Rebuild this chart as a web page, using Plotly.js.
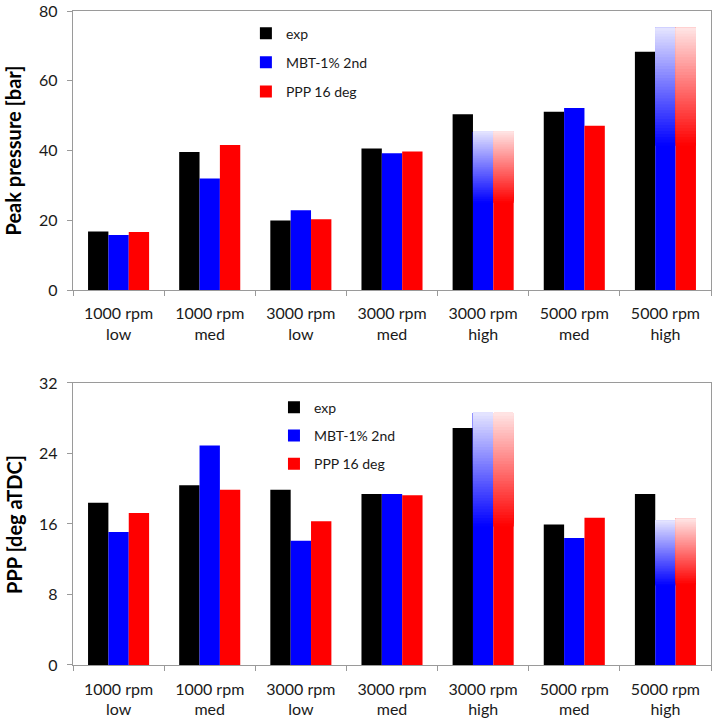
<!DOCTYPE html>
<html>
<head>
<meta charset="utf-8">
<script src="https://cdn.plot.ly/plotly-3.0.1.min.js"></script>
<style>
  html, body { margin: 0; padding: 0; background: #fff; }
  #chart { width: 714px; height: 720px; }
</style>
</head>
<body>
<div id="chart"></div>
<script>
// Operating points (engine speed / load)
const categories = [
  '1000 rpm<br>low', '1000 rpm<br>med', '3000 rpm<br>low', '3000 rpm<br>med',
  '3000 rpm<br>high', '5000 rpm<br>med', '5000 rpm<br>high'
];
const seriesNames = ['exp', 'MBT-1% 2nd', 'PPP 16 deg'];
const axisTitles = ['Peak pressure [bar]', 'PPP [deg aTDC]'];

// Peak cylinder pressure [bar]
const peakExp = [16.8, 39.6, 19.9, 40.6, 50.4, 51.1, 68.3];
const peakMbt = [15.8, 32.0, 22.9, 39.2, 45.5, 52.2, 75.2];
const peakPpp = [16.6, 41.6, 20.3, 39.7, 45.5, 47.1, 75.2];

// Location of peak pressure [deg aTDC]
const pppExp = [18.4, 20.4, 19.9, 19.4, 26.9, 15.95, 19.4];
const pppMbt = [15.1, 24.9, 14.1, 19.4, 28.6, 14.4, 16.4];
const pppPpp = [17.25, 19.9, 16.3, 19.25, 28.6, 16.7, 16.6];

// Points where the simulated result is uncertain (drawn as a fading bar)
const peakUncertain = [false, false, false, false, true, false, true];
const pppUncertain  = [false, false, false, false, true, false, true];

const COLORS = { exp: [0, 0, 0], mbt: [0, 0, 255], ppp: [255, 0, 0] };
const FADE_PART = 0.45;   // upper share of an uncertain bar that fades out
const FADE_STEPS = 40;
const FONT = 'Lato, "Open Sans", sans-serif';

function rgb(c, t) {
  // mix colour c with white by t (0 = pure colour, 1 = white)
  const m = c.map(v => Math.round(v + (255 - v) * t));
  return 'rgb(' + m.join(',') + ')';
}

function addSeries(traces, values, uncertain, color, name, xa, ya, legend) {
  const group = name + xa;
  // full-height solid bar
  traces.push({
    type: 'bar', x: categories, y: values,
    name: name, offsetgroup: name, legendgroup: group, legend: legend,
    showlegend: true, xaxis: xa, yaxis: ya,
    marker: { color: rgb(color, 0), line: { width: 0 } },
    hoverinfo: 'skip'
  });
  if (!uncertain) return;
  // fading overlay: each step runs up to the bar top, lighter steps drawn last
  for (let k = 0; k < FADE_STEPS; k++) {
    const t = ((k + 0.5) / FADE_STEPS) * 0.9;
    const start = v => v * (1 - FADE_PART) + k * v * FADE_PART / FADE_STEPS;
    traces.push({
      type: 'bar', x: categories,
      y: values.map((v, i) => uncertain[i] ? v - start(v) : null),
      base: values.map((v, i) => uncertain[i] ? start(v) : null),
      name: name, offsetgroup: name, legendgroup: group, legend: legend,
      showlegend: false, xaxis: xa, yaxis: ya,
      marker: { color: rgb(color, t), line: { width: 0 } },
      hoverinfo: 'skip'
    });
  }
}

const traces = [];
addSeries(traces, peakExp, null, COLORS.exp, seriesNames[0], 'x', 'y', 'legend');
addSeries(traces, peakMbt, peakUncertain, COLORS.mbt, seriesNames[1], 'x', 'y', 'legend');
addSeries(traces, peakPpp, peakUncertain, COLORS.ppp, seriesNames[2], 'x', 'y', 'legend');
addSeries(traces, pppExp, null, COLORS.exp, seriesNames[0], 'x2', 'y2', 'legend2');
addSeries(traces, pppMbt, pppUncertain, COLORS.mbt, seriesNames[1], 'x2', 'y2', 'legend2');
addSeries(traces, pppPpp, pppUncertain, COLORS.ppp, seriesNames[2], 'x2', 'y2', 'legend2');

const AXIS_GREY = '#9a9a9a';
const xBase = {
  type: 'category', showline: true, linecolor: AXIS_GREY, linewidth: 1.3, mirror: true,
  ticks: 'outside', tickson: 'boundaries', ticklen: 5, tickcolor: AXIS_GREY,
  showgrid: false, zeroline: false, ticklabelstandoff: 9,
  tickfont: { family: FONT, size: 16, color: '#1a1a1a' }
};
const yBase = {
  showline: true, linecolor: AXIS_GREY, linewidth: 1.3, mirror: true,
  ticks: 'outside', ticklen: 5, tickcolor: AXIS_GREY,
  showgrid: false, zeroline: false, ticklabelstandoff: 6,
  tickfont: { family: FONT, size: 16, color: '#1a1a1a' }
};
const legendBase = {
  bgcolor: 'rgba(0,0,0,0)', borderwidth: 0, xanchor: 'left', yanchor: 'top',
  font: { family: FONT, size: 14, color: '#1a1a1a' },
  traceorder: 'grouped', itemclick: false, itemdoubleclick: false
};
const titleFont = { family: FONT, size: 20, weight: 'bold', color: '#000' };
const TOP_DOMAIN = [0.5734, 1];
const BOTTOM_DOMAIN = [0, 0.4312];

const layout = {
  width: 714, height: 720,
  paper_bgcolor: '#fff', plot_bgcolor: '#fff',
  margin: { l: 73, r: 3, t: 11, b: 55 },
  barmode: 'group', bargap: 0.33, bargroupgap: 0,
  font: { family: FONT, color: '#1a1a1a' },
  xaxis: Object.assign({}, xBase, { anchor: 'y' }),
  yaxis: Object.assign({}, yBase, { domain: TOP_DOMAIN, range: [0, 80], dtick: 20, anchor: 'x' }),
  xaxis2: Object.assign({}, xBase, { anchor: 'y2' }),
  yaxis2: Object.assign({}, yBase, { domain: BOTTOM_DOMAIN, range: [0, 32], dtick: 8, anchor: 'x2' }),
  legend: Object.assign({}, legendBase, { x: 0.271, y: 0.99, tracegroupgap: 8 }),
  legend2: Object.assign({}, legendBase, { x: 0.315, y: 0.418, tracegroupgap: 7 }),
  // vertical axis titles, set at a fixed distance left of the tick labels
  annotations: axisTitles.map((text, i) => {
    const d = i === 0 ? TOP_DOMAIN : BOTTOM_DOMAIN;
    return {
      text: text, textangle: -90, font: titleFont, showarrow: false,
      xref: 'paper', yref: 'paper', x: -0.0925, xanchor: 'center',
      y: (d[0] + d[1]) / 2, yanchor: 'middle'
    };
  }),
  showlegend: true
};

Plotly.newPlot('chart', traces, layout, { displayModeBar: false, staticPlot: true });
</script>
</body>
</html>
